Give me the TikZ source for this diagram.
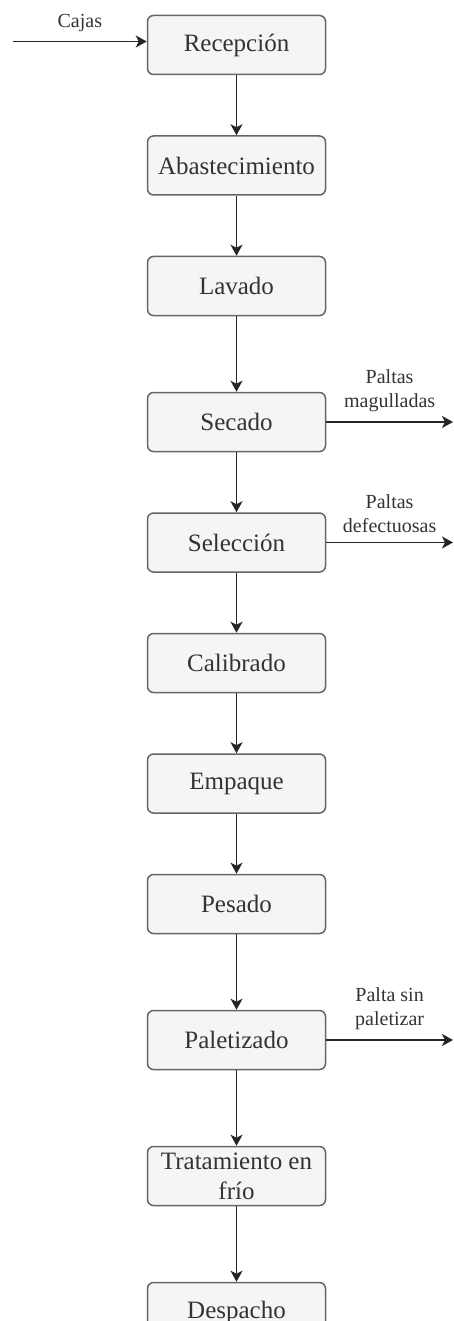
\documentclass[tikz,border=0pt]{standalone}
\usepackage{fontspec}
\setmainfont{Liberation Serif}
\usepackage{xcolor}
\usetikzlibrary{arrows.meta, positioning}

\definecolor{boxfill}{HTML}{F5F5F5}
\definecolor{boxline}{HTML}{666666}
\definecolor{boxtext}{HTML}{333333}

\begin{document}
\begin{tikzpicture}[
    x=1pt, y=1pt,
    node distance=60pt,
    etapa/.style={rectangle, draw=boxline, line width=1.5pt, rounded corners=6pt, fill=boxfill, text=boxtext, minimum width=178pt, minimum height=59pt, inner sep=2pt, align=center, font=\fontsize{25}{30}\selectfont},
    lbl/.style={font=\fontsize{20}{24}\selectfont, text=boxtext, align=center, inner sep=2pt},
    arr/.style={-{Stealth[length=11pt, width=12pt, inset=3pt]}, line width=1.7pt, black!85}
]
    \useasboundingbox (0,0) rectangle (454,-1321);

    \node[etapa] at (236.5,-45) (recep) {Recepción};
    \node[etapa, below=of recep] (abast) {Abastecimiento};
    \node[etapa, below=of abast] (lavado) {Lavado};
    \node[etapa, below=75.5pt of lavado] (secado) {Secado};
    \node[etapa, below=of secado] (selec) {Selección};
    \node[etapa, below=of selec] (calib) {Calibrado};
    \node[etapa, below=of calib] (empaque) {Empaque};
    \node[etapa, below=of empaque] (pesado) {Pesado};
    \node[etapa, below=75.5pt of pesado] (palet) {Paletizado};
    \node[etapa, below=75.5pt of palet] (trat) {Tratamiento en\\frío};
    \node[etapa, below=75.5pt of trat] (despacho) {Despacho};

    % entrada y salidas laterales
    \coordinate (cajasin) at (13,-41.5);
    \coordinate (secout) at (453,0 |- secado.east);
    \coordinate (selout) at (453,0 |- selec.east);
    \coordinate (palout) at (453,0 |- palet.east);

    \draw[arr] (cajasin) -- node[lbl, above=7pt] (cajas) {Cajas} (cajasin -| recep.west);

    \draw[arr] (recep) -- (abast);
    \draw[arr] (abast) -- (lavado);
    \draw[arr] (lavado) -- (secado);
    \draw[arr] (secado) -- (selec);
    \draw[arr] (selec) -- (calib);
    \draw[arr] (calib) -- (empaque);
    \draw[arr] (empaque) -- (pesado);
    \draw[arr] (pesado) -- (palet);
    \draw[arr] (palet) -- (trat);
    \draw[arr] (trat) -- (despacho);

    \draw[arr] (secado.east) -- node[lbl, above=7pt] (magu) {Paltas\\magulladas} (secout);
    \draw[arr] (selec.east) -- node[lbl, above=7pt] (defec) {Paltas\\defectuosas} (selout);
    \draw[arr] (palet.east) -- node[lbl, above=7pt] (sinpal) {Palta sin\\paletizar} (palout);
\end{tikzpicture}
\end{document}
